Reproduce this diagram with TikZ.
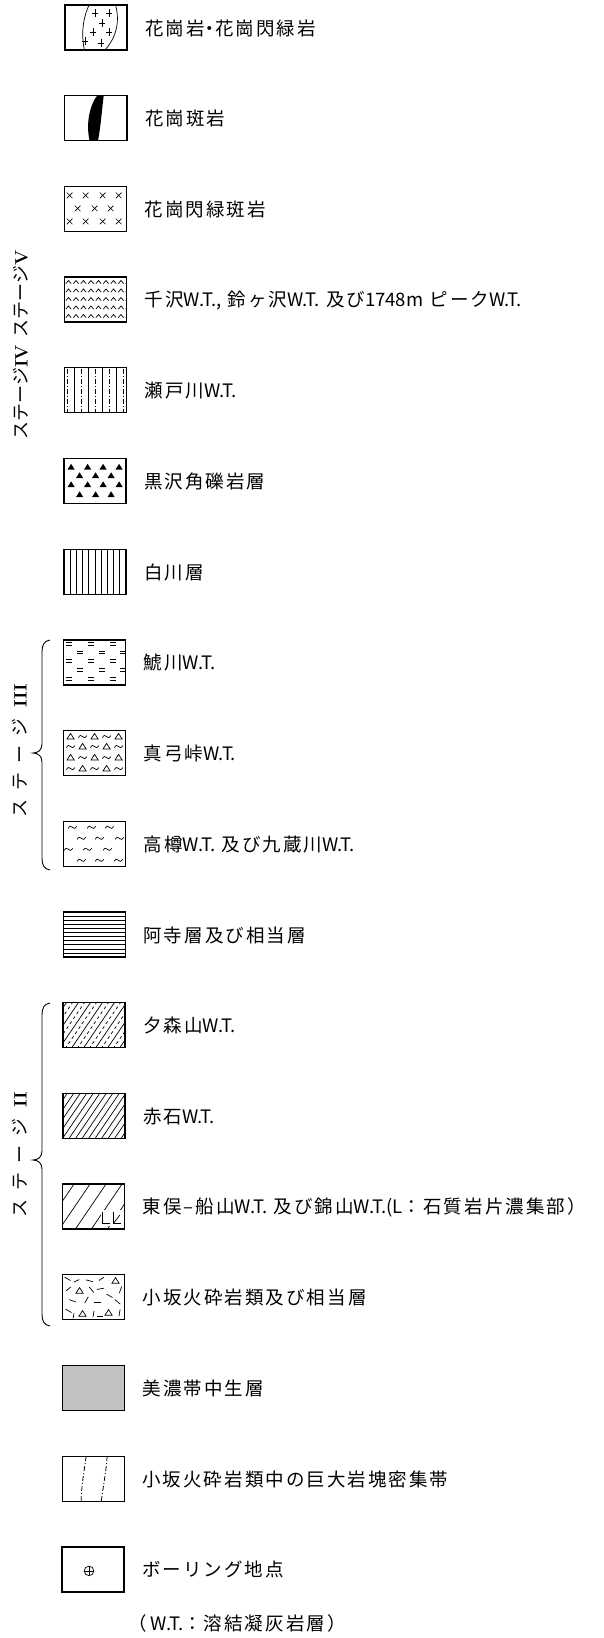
\documentclass[tikz,border=0pt]{standalone}
\usepackage{fontspec}
\newfontfamily\jp[LetterSpace=11]{Noto Sans CJK JP}
\newfontfamily\jpplain{Noto Sans CJK JP}
\newcommand\WT{{\jpplain W.T.}}
\tikzset{
  x=1pt, y=-1pt,
  legbox/.style={draw, line width=1.35pt, minimum width=62pt, minimum height=45pt, inner sep=0pt},
  leglabel/.style={anchor=west, inner sep=0pt, font=\jp\fontsize{18.5}{20}\selectfont},
  pat/.style={line width=0.7pt},
  stagelabel/.style={rotate=90, inner sep=0pt, font=\jpplain\fontsize{18}{20}\selectfont},
  bracepath/.style={line width=0.9pt},
  dashdotline/.style={line width=0.7pt, dash pattern=on 5pt off 2pt on 1pt off 2pt},
}
\newcommand\gX[2]{\draw[pat,shift={(#1,#2)}] (-2.8,-2.8)--(2.8,2.8) (-2.8,2.8)--(2.8,-2.8);}
\newcommand\gPlus[2]{\draw[pat,shift={(#1,#2)}] (-3.3,0)--(3.3,0) (0,-3.8)--(0,3.8);}
\newcommand\gTri[2]{\fill[shift={(#1,#2)}] (-3.6,2.6)--(3.6,2.6)--(0,-3.2)--cycle;}
\newcommand\gOTri[2]{\draw[pat,shift={(#1,#2)}] (-3.6,2.4)--(3.6,2.4)--(0,-3.2)--cycle;}
\newcommand\gWave[2]{\draw[pat,shift={(#1,#2)}] (-4.2,1) .. controls (-2.6,-1.8) and (-1.2,-1.4) .. (0,0) .. controls (1.2,1.4) and (2.6,1.8) .. (4.2,-1);}
\newcommand\gEq[2]{\draw[pat,shift={(#1,#2)}] (-3,-1.2)--(3,-1.2) (-3,1.2)--(3,1.2);}
\newcommand\gChev[2]{\draw[pat,shift={(#1,#2)}] (-2.7,1.6)--(0,-1.6)--(2.7,1.6);}
\newcommand\gDash[4]{\draw[pat,shift={(#1,#2)},rotate=#3] (-#4,0)--(#4,0);}
\newcommand\legitem[3]{%
  \pgfmathsetmacro\lx{65-3*#1/17}%
  \pgfmathsetmacro\ly{5+90.7*#1}%
  \begin{scope}[shift={(\lx,\ly)}]
    \begin{scope}\clip (0,0) rectangle (62,45); #2 \end{scope}
    \node[legbox] (box#1) at (31,22.5) {};
    \node[leglabel] (label#1) at (80,23) {#3};
  \end{scope}}
\begin{document}
\begin{tikzpicture}
\fill[white] (0,0) rectangle (603,1638);
\useasboundingbox (0,0) rectangle (603,1638);

% 0 granite
\legitem{0}{%
  \draw[pat] (25,-2) .. controls (17,14) and (16,32) .. (20,47);
  \draw[pat] (50,-2) .. controls (55,14) and (53,32) .. (38,47);
  \gPlus{30}{8}\gPlus{44}{8}\gPlus{37}{18}\gPlus{28}{27}\gPlus{44}{27}\gPlus{20}{36}\gPlus{36}{38}%
}{花崗岩\kern-4pt・\kern-4pt花崗閃緑岩}
% 1 granite porphyry
\legitem{1}{%
  \fill (39,-1) .. controls (37,15) and (36,30) .. (33,46) -- (25,46) .. controls (21,30) and (24,10) .. (33,-1) -- cycle;
}{花崗斑岩}
% 2 granodiorite porphyry
\legitem{2}{%
  \foreach \c in {5,21,38,54}{\gX{\c}{9}\gX{\c}{35}}
  \foreach \c in {13,30,46}{\gX{\c}{22}}
}{花崗閃緑斑岩}
% 3 chevrons
\legitem{3}{%
  \foreach \r in {5,13.5,22,30.5,39}{\foreach \c in {4,11.5,19,26.5,34,41.5,49,56.5,64}{\gChev{\c}{\r}}}
}{千沢\WT{\jpplain,} 鈴ヶ沢\WT\ 及び{\jpplain 1748m} ピーク\WT}
% 4 Setogawa
\legitem{4}{%
  \foreach \c in {10,24,38,52}{\draw[pat] (\c,0)--(\c,45);}
  \foreach \c in {3,17,31,45,59}{\draw[dashdotline] (\c,1)--(\c,45);}
}{瀬戸川\WT}
% 5 black triangles
\legitem{5}{%
  \foreach \c in {7,23.5,39,55}{\gTri{\c}{8.5}\gTri{\c}{26}}
  \foreach \c in {15.5,31.5,47}{\gTri{\c}{17}\gTri{\c}{36}}
}{黒沢角礫岩層}
% 6 vertical lines
\legitem{6}{%
  \foreach \k in {1,...,9}{\draw[pat] (6.2*\k,0)--(6.2*\k,45);}
}{白川層}
% 7 equals
\legitem{7}{%
  \foreach \r in {4,21,39}{\foreach \c in {5,27,49}{\gEq{\c}{\r}}}
  \foreach \r in {12.5,30}{\foreach \c in {16,38,59}{\gEq{\c}{\r}}}
}{鯱川\WT}
% 8 triangles and waves
\legitem{8}{%
  \foreach \r in {6,27}{\gOTri{7}{\r}\gWave{19}{\r}\gOTri{31}{\r}\gWave{43}{\r}\gOTri{55}{\r}}
  \foreach \r in {16,38}{\gWave{7}{\r}\gOTri{19}{\r}\gWave{31}{\r}\gOTri{43}{\r}\gWave{55}{\r}}
}{真弓峠\WT}
% 9 waves
\legitem{9}{%
  \foreach \c in {9,28,46}{\gWave{\c}{6}}
  \foreach \c in {18,36,56}{\gWave{\c}{17}}
  \foreach \c in {5,24,44}{\gWave{\c}{28}}
  \foreach \c in {18,36,55}{\gWave{\c}{39}}
}{高樽\WT\ 及び九蔵川\WT}
% 10 horizontal lines
\legitem{10}{%
  \foreach \k in {1,...,10}{\draw[pat] (0,4.1*\k)--(62,4.1*\k);}
}{阿寺層及び相当層}
% 11 Yumoriyama
\legitem{11}{%
  \foreach \x in {-40,-28,...,64}{\draw[pat] (\x,46)--(\x+32,-1);\draw[pat,dash pattern=on 3pt off 3pt] (\x+6,46)--(\x+38,-1);}
}{夕森山\WT}
% 12 Akaishi
\legitem{12}{%
  \foreach \x in {-40,-33.5,...,64}{\draw[pat] (\x,46)--(\x+32,-1);}
}{赤石\WT}
% 13 Higashimata
\legitem{13}{%
  \foreach \x in {-36,-20,...,64}{\draw[pat] (\x,46)--(\x+32,-1);}
  \fill[white] (38,26) rectangle (61,42);
  \draw[pat] (40,28)--(40,39)--(47,39);
  \draw[pat] (51,28)--(51,39)--(58,39);
  \draw[pat] (51,39)--(57,31);
}{東俣–船山\WT\ 及び錦山\WT{\jpplain (L}：石質岩片濃集部）}
% 14 Osaka pyroclastics
\legitem{14}{%
  \gOTri{53}{6}\gOTri{17}{16}\gOTri{20}{39}\gOTri{46}{38}
  \gDash{5}{4}{-30}{3.5}\gDash{14}{6}{25}{3}\gDash{27}{6}{-15}{3.5}\gDash{39}{4}{35}{3}
  \gDash{6}{14}{40}{3}\gDash{29}{15}{-50}{3.5}\gDash{38}{14}{10}{3.5}\gDash{58}{15}{70}{3.5}
  \gDash{47}{21}{-30}{3.5}\gDash{10}{26}{-20}{3.5}\gDash{24}{25}{60}{3.5}\gDash{35}{28}{0}{3.5}\gDash{55}{27}{-40}{3.5}
  \gDash{6}{36}{-30}{3.5}\gDash{31}{39}{80}{3}\gDash{37}{42}{0}{3}\gDash{57}{38}{80}{3.5}\gDash{11}{41}{80}{2.5}
}{小坂火砕岩類及び相当層}
% 15 Mino belt
\legitem{15}{%
  \fill[black!24] (0,0) rectangle (62,45);
}{美濃帯中生層}
% 16 giant blocks
\legitem{16}{%
  \draw[dashdotline,line width=0.8pt] (24,0) .. controls (22,15) and (19,30) .. (19,46);
  \draw[dashdotline,line width=0.8pt] (45,0) .. controls (44,15) and (41,30) .. (39,46);
}{小坂火砕岩類中の巨大岩塊密集帯}
% 17 boring
\legitem{17}{%
  \draw[pat] (27,24) circle (4.8);
  \draw[pat] (22.2,24)--(31.8,24) (27,19.2)--(27,28.8);
}{ボーリング地点}

\node[leglabel] (note) at (128,1623) {（\kern4pt{\jpplain W.T.}：溶結凝灰岩層）};

% stages
\node[stagelabel] (stage45) at (21,345) {ステージ{\rmfamily\bfseries IV}\hspace{0.4em}ステージ{\rmfamily\bfseries V}};
\node[stagelabel] (stage3) at (20,751) {ス\kern9ptテ\kern9ptー\kern9ptジ\kern11pt{\rmfamily\bfseries III}};
\node[stagelabel] (stage2) at (20,1155) {ス\kern9ptテ\kern9ptー\kern9ptジ\kern11pt{\rmfamily\bfseries II}};

\draw[bracepath] (50,640) .. controls (44,641) and (42,645) .. (42,652) -- (42,744) .. controls (42,750) and (38,753) .. (33,753) .. controls (38,753) and (42,756) .. (42,762) -- (42,858) .. controls (42,865) and (44,869) .. (50,870);
\draw[bracepath] (50,1003) .. controls (44,1004) and (42,1008) .. (42,1015) -- (42,1151) .. controls (42,1157) and (38,1160) .. (33,1160) .. controls (38,1160) and (42,1163) .. (42,1169) -- (42,1314) .. controls (42,1321) and (44,1325) .. (50,1326);
\end{tikzpicture}
\end{document}
